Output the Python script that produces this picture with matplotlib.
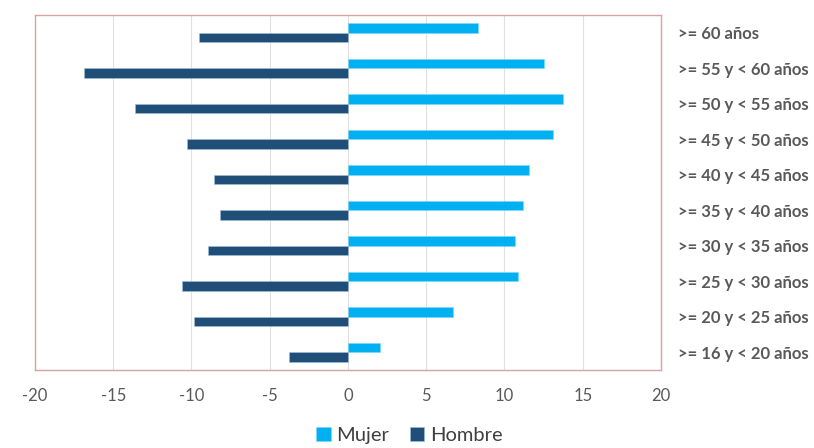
import matplotlib
matplotlib.use("Agg")
import matplotlib.pyplot as plt
import numpy as np

categories = [">= 16 y < 20 años", ">= 20 y < 25 años", ">= 25 y < 30 años",
              ">= 30 y < 35 años", ">= 35 y < 40 años", ">= 40 y < 45 años",
              ">= 45 y < 50 años", ">= 50 y < 55 años", ">= 55 y < 60 años",
              ">= 60 años"]
mujer = [2.06, 6.74, 10.87, 10.65, 11.17, 11.59, 13.13, 13.73, 12.53, 8.3]
hombre = [-3.8, -9.87, -10.6, -8.95, -8.2, -8.56, -10.3, -13.6, -16.9, -9.55]
xticks = [-20, -15, -10, -5, 0, 5, 10, 15, 20]

plt.rcParams['font.family'] = ['Lato', 'DejaVu Sans']

fig = plt.figure(figsize=(8.14, 4.48), dpi=100)
ax = fig.add_axes([0.043, 0.174, 0.769, 0.7925])

y = np.arange(len(categories))
h = 0.27
ax.barh(y + h / 2, mujer, height=h, color='#00B0F0', label='Mujer',
        edgecolor='#7FD7F7', linewidth=0.4, zorder=3)
ax.barh(y - h / 2, hombre, height=h, color='#1F4E79', label='Hombre',
        edgecolor='#9FC0DA', linewidth=0.4, zorder=3)

ax.set_xlim(-20, 20)
ax.set_ylim(-0.5, len(categories) - 0.5)
ax.set_xticks(xticks)
ax.set_xticklabels([str(v) for v in xticks])
ax.grid(axis='x', color='#E0E0E0', linewidth=0.8, zorder=0)
ax.set_axisbelow(True)

ax.yaxis.tick_right()
ax.set_yticks(y)
ax.set_yticklabels(categories, fontweight='bold', fontsize=12, color='#595959')
ax.tick_params(axis='y', length=0, pad=12)
ax.tick_params(axis='x', length=0, pad=13, labelsize=12, labelcolor='#595959')

for s in ax.spines.values():
    s.set_color('#D9A3A3')
    s.set_linewidth(1.0)

fig.legend(loc='center', bbox_to_anchor=(0.503, 0.027), ncol=2, frameon=False,
           fontsize=14.5, handlelength=0.7, handleheight=0.7, handletextpad=0.3,
           columnspacing=1.0, labelcolor='#404040')

fig.savefig('out.png', dpi=100)
